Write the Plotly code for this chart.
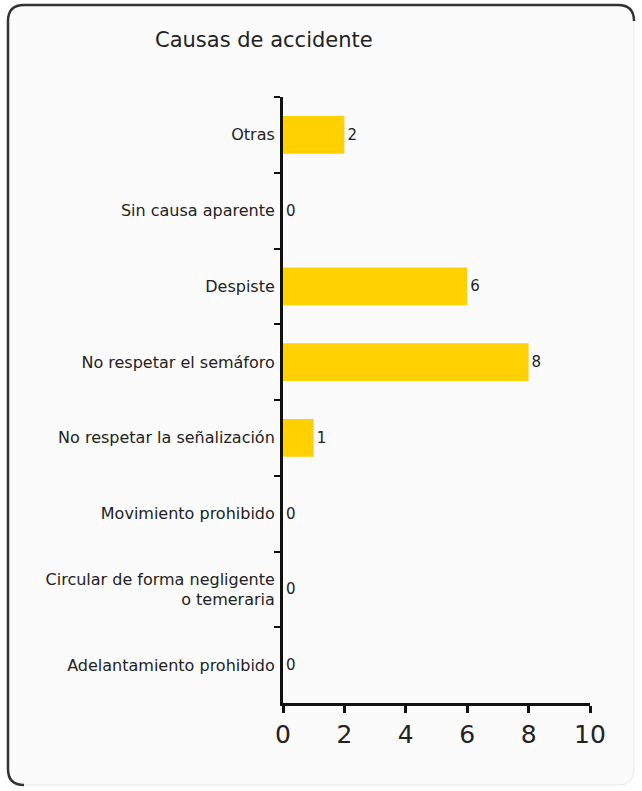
import plotly.graph_objects as go

# Accident causes and counts, listed top to bottom
causas = [
    "Otras",
    "Sin causa aparente",
    "Despiste",
    "No respetar el semáforo",
    "No respetar la señalización",
    "Movimiento prohibido",
    "Circular de forma negligente<br>o temeraria",
    "Adelantamiento prohibido",
]
accidentes = [2, 0, 6, 8, 1, 0, 0, 0]
x_ticks = [0, 2, 4, 6, 8, 10]

W, H = 642, 791
L, R, T, B = 283, 52, 97, 88
PW, PH = W - L - R, H - T - B


def px(x):
    return (x - L) / PW


def py(y):
    return (H - B - y) / PH


FONT = "DejaVu Sans"
BAR = "#FFD100"

fig = go.Figure(
    go.Bar(
        x=accidentes,
        y=causas,
        orientation="h",
        marker=dict(color=BAR, line=dict(width=0)),
        text=[str(v) for v in accidentes],
        textposition="outside",
        textfont=dict(family=FONT, size=15, color="#222"),
        cliponaxis=False,
        hoverinfo="skip",
    )
)

# Card outline: faint full rounded box, dark left/top edges
x0, x1, y0, y1, r = 8, 634, 5, 785, 16
box = (
    f"M {px(x0 + r)} {py(y0)} L {px(x1 - r)} {py(y0)} "
    f"Q {px(x1)} {py(y0)} {px(x1)} {py(y0 + r)} L {px(x1)} {py(y1 - r)} "
    f"Q {px(x1)} {py(y1)} {px(x1 - r)} {py(y1)} L {px(x0 + r)} {py(y1)} "
    f"Q {px(x0)} {py(y1)} {px(x0)} {py(y1 - r)} L {px(x0)} {py(y0 + r)} "
    f"Q {px(x0)} {py(y0)} {px(x0 + r)} {py(y0)} Z"
)
edge = (
    f"M {px(x0 + r)} {py(y1)} "
    f"Q {px(x0)} {py(y1)} {px(x0)} {py(y1 - r)} L {px(x0)} {py(y0 + r)} "
    f"Q {px(x0)} {py(y0)} {px(x0 + r)} {py(y0)} L {px(x1 - r)} {py(y0)} "
    f"Q {px(x1)} {py(y0)} {px(x1)} {py(y0 + r)}"
)
fig.add_shape(type="path", path=box, xref="paper", yref="paper",
              fillcolor="#fbfbfb", line=dict(color="#e6e6e6", width=1), layer="below")
fig.add_shape(type="path", path=edge, xref="paper", yref="paper",
              line=dict(color="#333", width=2.5), layer="below")

fig.update_layout(
    width=W,
    height=H,
    margin=dict(l=L, r=R, t=T, b=B, autoexpand=False),
    paper_bgcolor="white",
    plot_bgcolor="rgba(0,0,0,0)",
    bargap=0.5,
    showlegend=False,
    font=dict(family=FONT, color="#222"),
    title=dict(
        text="Causas de accidente",
        xref="container", yref="container",
        x=155 / W, xanchor="left",
        y=1 - 40 / H, yanchor="middle",
        font=dict(family=FONT, size=21, color="#222"),
    ),
    xaxis=dict(
        range=[0, 10],
        tickvals=x_ticks,
        ticktext=[str(v) for v in x_ticks],
        ticks="outside", ticklen=7, tickwidth=2.5, tickcolor="#111",
        showline=True, linecolor="#111", linewidth=3,
        showgrid=False, zeroline=False,
        tickfont=dict(family=FONT, size=25, color="#222"),
    ),
    yaxis=dict(
        categoryorder="array",
        categoryarray=causas,
        autorange="reversed",
        tickson="boundaries",
        ticks="outside", ticklen=6, tickwidth=2, tickcolor="#111",
        showline=True, linecolor="#111", linewidth=3,
        showgrid=False, zeroline=False,
        ticklabelstandoff=2,
        tickfont=dict(family=FONT, size=16, color="#222"),
    ),
)

fig.write_html("out.html")
